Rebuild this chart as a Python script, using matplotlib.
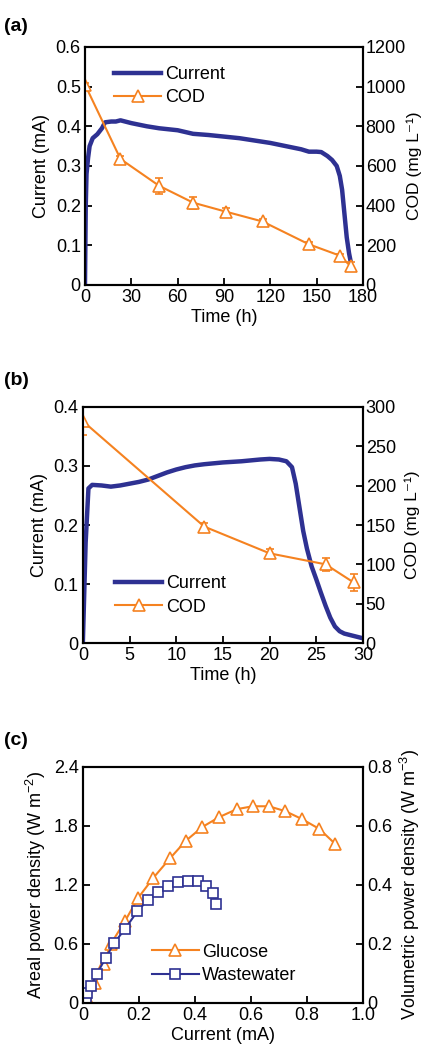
# Current / COD / power density panels

import matplotlib.pyplot as plt
from matplotlib.lines import Line2D

BLUE = '#2e3192'
ORANGE = '#f58220'

# (a) glucose run
A_TIME = [0, 0.5, 1, 2, 3, 5, 8, 11, 13, 17, 20, 23, 26, 30, 40, 48, 60, 70, 80, 90, 100,
          110, 120, 130, 140, 145, 150, 153, 157, 160, 163, 165, 166.5, 168, 169.5, 171, 172]
A_CURRENT = [0, 0.2, 0.28, 0.32, 0.35, 0.37, 0.38, 0.395, 0.41, 0.412, 0.412, 0.415, 0.412,
             0.408, 0.4, 0.395, 0.39, 0.381, 0.378, 0.374, 0.37, 0.364, 0.358, 0.35, 0.342,
             0.336, 0.336, 0.335, 0.325, 0.315, 0.3, 0.275, 0.24, 0.18, 0.12, 0.08, 0.06]
A_COD_TIME = [0, 23, 48, 70, 91, 115, 145, 165, 172]
A_COD = [1010, 635, 500, 415, 370, 320, 205, 148, 95]
A_COD_ERR = [10, 15, 40, 30, 20, 15, 10, 10, 20]

# (b) wastewater run
B_TIME = [0, 0.3, 0.6, 1, 2, 3, 4, 5, 6, 7, 8, 9, 10, 11, 12, 13, 15, 17, 19, 20, 21, 21.8,
          22.4, 22.8, 23.2, 23.6, 24, 24.5, 25, 25.5, 26, 26.5, 27, 27.5, 28, 29, 30]
B_CURRENT = [0, 0.17, 0.262, 0.268, 0.267, 0.265, 0.267, 0.27, 0.273, 0.277, 0.283, 0.289,
             0.294, 0.298, 0.301, 0.303, 0.306, 0.308, 0.311, 0.312, 0.311, 0.308, 0.298,
             0.27, 0.23, 0.19, 0.16, 0.13, 0.108, 0.085, 0.063, 0.043, 0.028, 0.02, 0.016,
             0.012, 0.008]
B_COD_TIME = [0, 13, 20, 26, 29]
B_COD = [282, 148, 114, 100, 77]
B_COD_ERR = [18, 5, 5, 8, 11]

# (c) power density curves
GLU_I = [0.02, 0.045, 0.075, 0.1, 0.15, 0.198, 0.251, 0.311, 0.368, 0.427, 0.487, 0.549,
         0.606, 0.664, 0.723, 0.782, 0.844, 0.9]
GLU_P = [0.03, 0.2, 0.4, 0.6, 0.83, 1.07, 1.27, 1.47, 1.65, 1.79, 1.89, 1.97, 2.0, 2.0,
         1.95, 1.87, 1.77, 1.62]
WW_I = [0.012, 0.015, 0.029, 0.049, 0.082, 0.112, 0.15, 0.194, 0.233, 0.269, 0.305, 0.34,
        0.376, 0.412, 0.438, 0.463, 0.477]
WW_P = [0.03, 0.1, 0.17, 0.29, 0.46, 0.61, 0.75, 0.93, 1.05, 1.13, 1.19, 1.23, 1.24, 1.24,
        1.19, 1.12, 1.01]

A_XTICKS = [0, 30, 60, 90, 120, 150, 180]
A_YTICKS = [0, 0.1, 0.2, 0.3, 0.4, 0.5, 0.6]
A_RTICKS = [0, 200, 400, 600, 800, 1000, 1200]
B_XTICKS = [0, 5, 10, 15, 20, 25, 30]
B_YTICKS = [0, 0.1, 0.2, 0.3, 0.4]
B_RTICKS = [0, 50, 100, 150, 200, 250, 300]
C_XTICKS = [0, 0.2, 0.4, 0.6, 0.8, 1.0]
C_XLABELS = ['0', '0.2', '0.4', '0.6', '0.8', '1.0']
C_YTICKS = [0, 0.6, 1.2, 1.8, 2.4]
C_RTICKS = [0, 0.2, 0.4, 0.6, 0.8]

FS = 13


def style(ax):
    for s in ax.spines.values():
        s.set_linewidth(1.5)
    ax.tick_params(direction='in', length=5, width=1.3, labelsize=FS, pad=3)


def fmt(vals):
    return ['%g' % v for v in vals]


def panel_cod(ax, t, cur, ct, cod, err, xt, yt, rt, xmax, ymax, rmax, legloc, rlab_x):
    ax2 = ax.twinx()
    ax.plot(t, cur, color=BLUE, lw=3.2, zorder=3)
    ax2.errorbar(ct, cod, yerr=err, color=ORANGE, lw=1.5, marker='^', ms=8, mfc='white',
                 mec=ORANGE, mew=1.2, capsize=3, elinewidth=1.2)
    ax.set_xlim(0, xmax)
    ax.set_ylim(0, ymax)
    ax2.set_ylim(0, rmax)
    ax.set_xticks(xt)
    ax.set_xticklabels(fmt(xt))
    ax.set_yticks(yt)
    ax.set_yticklabels(fmt(yt))
    ax2.set_yticks(rt)
    ax2.set_yticklabels(fmt(rt))
    style(ax)
    style(ax2)
    ax2.tick_params(axis='y', pad=2)
    ax.set_xlabel('Time (h)', fontsize=FS, labelpad=2)
    ax.set_ylabel('Current (mA)', fontsize=FS, labelpad=4)
    ax2.set_ylabel('COD (mg L\u207b\u00b9)', fontsize=12.5)
    ax2.yaxis.set_label_coords(rlab_x, 0.5)
    handles = [Line2D([], [], color=BLUE, lw=3.2),
               Line2D([], [], color=ORANGE, lw=1.5, marker='^', ms=8, mfc='white',
                      mec=ORANGE, mew=1.2)]
    ax2.legend(handles, ['Current', 'COD'], loc=legloc, frameon=False, fontsize=FS,
               handlelength=2.6, handletextpad=0.2, labelspacing=0.35)
    return ax2


def main():
    plt.rcParams['font.family'] = ['Liberation Sans', 'DejaVu Sans']
    plt.rcParams['mathtext.fontset'] = 'custom'
    plt.rcParams['mathtext.rm'] = 'Liberation Sans'
    fig = plt.figure(figsize=(4.27, 10.5), dpi=100)

    axa = fig.add_axes([0.199, 0.7286, 0.651, 0.2267])
    panel_cod(axa, A_TIME, A_CURRENT, A_COD_TIME, A_COD, A_COD_ERR,
              A_XTICKS, A_YTICKS, A_RTICKS, 180, 0.6, 1200, (0.08, 0.72), 1.155)

    axb = fig.add_axes([0.194, 0.3876, 0.656, 0.2248])
    panel_cod(axb, B_TIME, B_CURRENT, B_COD_TIME, B_COD, B_COD_ERR,
              B_XTICKS, B_YTICKS, B_RTICKS, 30, 0.4, 300, (0.09, 0.085), 1.15)

    axc = fig.add_axes([0.194, 0.0448, 0.656, 0.2248])
    axc.plot(GLU_I, GLU_P, color=ORANGE, lw=1.5, marker='^', ms=8, mfc='white',
             mec=ORANGE, mew=1.2, label='Glucose')
    axc.plot(WW_I, WW_P, color=BLUE, lw=1.5, marker='s', ms=6.5, mfc='white',
             mec=BLUE, mew=1.2, label='Wastewater')
    axc.set_xlim(0, 1.0)
    axc.set_ylim(0, 2.4)
    axc.set_xticks(C_XTICKS)
    axc.set_xticklabels(C_XLABELS)
    axc.set_yticks(C_YTICKS)
    axc.set_yticklabels(fmt(C_YTICKS))
    axc2 = axc.twinx()
    axc2.set_ylim(0, 0.8)
    axc2.set_yticks(C_RTICKS)
    axc2.set_yticklabels(fmt(C_RTICKS))
    style(axc)
    style(axc2)
    axc.set_xlabel('Current (mA)', fontsize=FS, labelpad=2)
    axc.set_ylabel('Areal power density (W m$^{-2}$)', fontsize=FS, labelpad=4)
    axc2.set_ylabel('Volumetric power density (W m$^{-3}$)', fontsize=FS, labelpad=4)
    axc.legend(loc=(0.22, 0.05), frameon=False, fontsize=FS, handlelength=2.6,
               handletextpad=0.2, labelspacing=0.35)

    for lab, y in [('(a)', 0.975), ('(b)', 0.638), ('(c)', 0.295)]:
        fig.text(0.01, y, lab, fontsize=14, fontweight='bold', va='center')

    fig.savefig('out.png', dpi=100)


if __name__ == '__main__':
    main()
